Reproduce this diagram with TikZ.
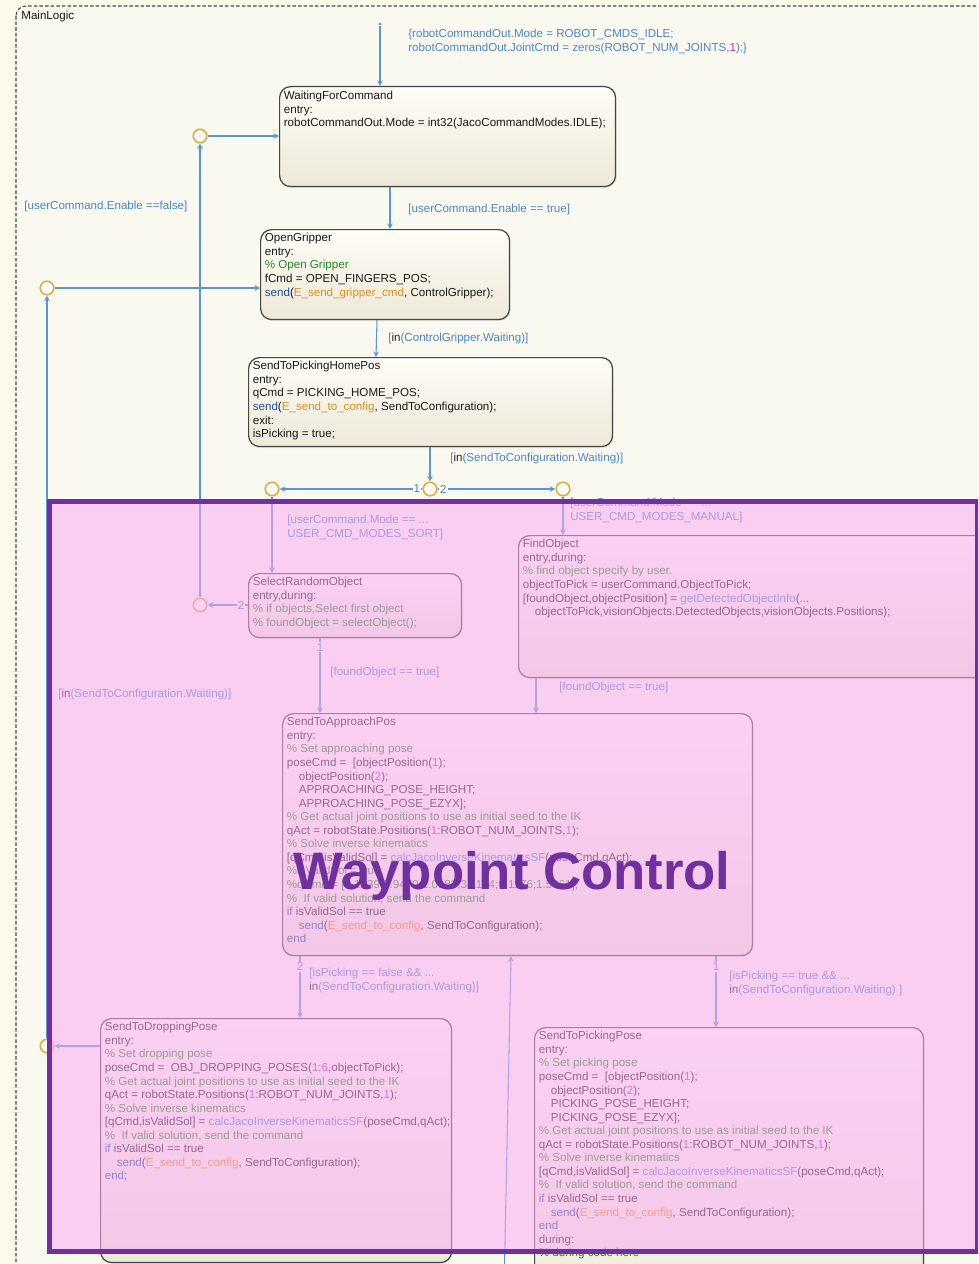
\documentclass[tikz,border=0pt]{standalone}
\usepackage{fontspec}
\setmainfont{Liberation Sans}
\usepackage{xcolor}
\usetikzlibrary{arrows.meta, positioning, calc, shadows}

\definecolor{sfbg}{RGB}{253,250,236}
\definecolor{sfchart}{RGB}{250,249,239}
\definecolor{sftop}{RGB}{253,252,246}
\definecolor{sfbot}{RGB}{237,233,216}
\definecolor{sfline}{RGB}{88,150,214}
\definecolor{sfguard}{RGB}{74,134,206}
\definecolor{sfjunc}{RGB}{232,168,56}
\definecolor{sfborder}{RGB}{70,70,70}
\definecolor{sfkey}{RGB}{30,80,160}
\definecolor{sfcomment}{RGB}{34,139,34}
\definecolor{sfevent}{RGB}{222,146,20}
\definecolor{sffunc}{RGB}{80,130,215}
\definecolor{sfnum}{RGB}{200,40,200}
\definecolor{wpfill}{RGB}{249,172,242}
\definecolor{wppurple}{RGB}{112,48,160}

\newcommand{\kw}[1]{\textcolor{sfkey}{#1}}
\newcommand{\cmt}[1]{\textcolor{sfcomment}{#1}}
\newcommand{\evt}[1]{\textcolor{sfevent}{#1}}
\newcommand{\fcn}[1]{\textcolor{sffunc}{#1}}
\newcommand{\nm}[1]{\textcolor{sfnum}{#1}}
\newcommand{\inkw}{\textcolor{black!85}{in}}
\newcommand{\ind}{\hspace*{6.8pt}}

\begin{document}
\begin{tikzpicture}[
  x=0.02cm, y=-0.02cm,
  font=\fontsize{6.6}{7.72}\selectfont,
  state/.style={draw=sfborder, line width=0.7pt, rounded corners=0.22cm, top color=sftop, bottom color=sfbot, anchor=north west, inner sep=0pt, drop shadow={opacity=0.18, shadow xshift=0.6pt, shadow yshift=-0.8pt}},
  code/.style={anchor=north west, inner sep=0pt, align=left, text=black!90},
  trans/.style={draw=sfline, line width=0.6pt, -{Stealth[open, length=1.1mm, width=1.1mm]}},
  guard/.style={inner sep=0pt, align=left, text=sfguard},
  junc/.style={circle, draw=sfjunc, fill=white, line width=0.9pt, minimum size=0.27cm, inner sep=0pt},
  order/.style={inner sep=0.5pt, fill=sfchart, text=sfguard},
  wpbox/.style={draw=wppurple, line width=0.1cm, fill=wpfill, fill opacity=0.55, anchor=north west, inner sep=0pt},
  wptitle/.style={font=\fontsize{30}{36}\selectfont\bfseries, text=wppurple, anchor=base, inner sep=0pt}
]
\useasboundingbox (0,0) rectangle (978,1264);
\clip (0,0) rectangle (978,1264);
\fill[sfbg] (0,0) rectangle (978,1264);

% chart frame
\draw[sfborder, line width=0.6pt, dash pattern=on 2pt off 1.2pt, rounded corners=0.2cm, fill=sfchart] (16,6) rectangle (1010,1300);
\node[code] (mainlbl) at (21,11) {MainLogic};

% states
\node[state, minimum width=6.72cm, minimum height=2.0cm] (wfc) at (279,86) {};
\node[code] at ($(wfc.north west)+(4.5,5)$) {WaitingForCommand\\entry:\\robotCommandOut.Mode = int32(JacoCommandModes.IDLE);};

\node[state, minimum width=4.98cm, minimum height=1.8cm] (og) at (260,229) {};
\node[code] at ($(og.north west)+(4.5,4)$) {OpenGripper\\entry:\\\cmt{\% Open Gripper}\\fCmd = OPEN\_FINGERS\_POS;\\\kw{send}(\evt{E\_send\_gripper\_cmd}, ControlGripper);};

\node[state, minimum width=7.28cm, minimum height=1.78cm] (sthp) at (248,357) {};
\node[code] at ($(sthp.north west)+(4.5,4)$) {SendToPickingHomePos\\entry:\\qCmd = PICKING\_HOME\_POS;\\\kw{send}(\evt{E\_send\_to\_config}, SendToConfiguration);\\exit:\\isPicking = true;};

\node[state, minimum width=4.26cm, minimum height=1.28cm] (sro) at (248,573) {};
\node[code] at ($(sro.north west)+(4.5,4)$) {SelectRandomObject\\entry,during:\\\cmt{\% if objects,Select first object}\\\cmt{\% foundObject = selectObject();}};

\node[state, minimum width=9.6cm, minimum height=2.84cm] (fo) at (518,535) {};
\node[code] at ($(fo.north west)+(4.5,4)$) {FindObject\\entry,during:\\\cmt{\% find object specify by user.}\\objectToPick = userCommand.ObjectToPick;\\{[}foundObject,objectPosition] = \fcn{getDetectedObjectInfo}(...\\\ind objectToPick,visionObjects.DetectedObjects,visionObjects.Positions);};

\node[state, minimum width=9.4cm, minimum height=4.84cm] (stap) at (282,713) {};
\node[code] at ($(stap.north west)+(4.5,4)$) {SendToApproachPos\\entry:\\\cmt{\% Set approaching pose}\\poseCmd =\ \ [objectPosition(\nm{1});\\\ind objectPosition(\nm{2});\\\ind APPROACHING\_POSE\_HEIGHT;\\\ind APPROACHING\_POSE\_EZYX];\\\cmt{\% Get actual joint positions to use as initial seed to the IK}\\qAct = robotState.Positions(\nm{1}:ROBOT\_NUM\_JOINTS,\nm{1});\\\cmt{\% Solve inverse kinematics}\\{[}qCmd,isValidSol] = \fcn{calcJacoInverseKinematicsSF}(poseCmd,qAct);\\\cmt{\%isValidSol = true;}\\\cmt{\%qCmd = [0.1239;0.9470;1.0183;3.1164;0.1176;1.5861];}\\\cmt{\%\ \ If valid solution, send the command}\\\kw{if} isValidSol == true\\\ind\kw{send}(\evt{E\_send\_to\_config}, SendToConfiguration);\\\kw{end}};

\node[state, minimum width=7.02cm, minimum height=4.88cm] (stdp) at (100,1018) {};
\node[code] at ($(stdp.north west)+(4.5,4)$) {SendToDroppingPose\\entry:\\\cmt{\% Set dropping pose}\\poseCmd =\ \ OBJ\_DROPPING\_POSES(\nm{1}:\nm{6},objectToPick);\\\cmt{\% Get actual joint positions to use as initial seed to the IK}\\qAct = robotState.Positions(\nm{1}:ROBOT\_NUM\_JOINTS,\nm{1});\\\cmt{\% Solve inverse kinematics}\\{[}qCmd,isValidSol] = \fcn{calcJacoInverseKinematicsSF}(poseCmd,qAct);\\\cmt{\%\ \ If valid solution, send the command}\\\kw{if} isValidSol == true\\\ind\kw{send}(\evt{E\_send\_to\_config}, SendToConfiguration);\\\kw{end};};

\node[state, minimum width=7.78cm, minimum height=6cm] (stpp) at (534,1027) {};
\node[code] at ($(stpp.north west)+(4.5,4)$) {SendToPickingPose\\entry:\\\cmt{\% Set picking pose}\\poseCmd =\ \ [objectPosition(\nm{1});\\\ind objectPosition(\nm{2});\\\ind PICKING\_POSE\_HEIGHT;\\\ind PICKING\_POSE\_EZYX];\\\cmt{\% Get actual joint positions to use as initial seed to the IK}\\qAct = robotState.Positions(\nm{1}:ROBOT\_NUM\_JOINTS,\nm{1});\\\cmt{\% Solve inverse kinematics}\\{[}qCmd,isValidSol] = \fcn{calcJacoInverseKinematicsSF}(poseCmd,qAct);\\\cmt{\%\ \ If valid solution, send the command}\\\kw{if} isValidSol == true\\\ind\kw{send}(\evt{E\_send\_to\_config}, SendToConfiguration);\\\kw{end}\\during:\\\cmt{\% during code here}};

% junctions
\node[circle, fill=sfline, inner sep=0pt, minimum size=0.06cm] (init) at (380,24) {};
\node[junc] (j1) at (200,136) {};
\node[junc] (j2) at (47,288) {};
\node[junc] (j3) at (430,489) {};
\node[junc] (jl) at (272,489) {};
\node[junc] (jr) at (563,489) {};
\node[junc] (jsr) at (200,605) {};
\node[junc] (jdp) at (47,1046) {};
\coordinate (below) at (504,1290);

% transitions
\draw[trans] (init) -- (init |- wfc.north);
\draw[trans] (j1) -- (j1 -| wfc.west);
\draw[trans] (j2) -- (j2 -| og.west);
\draw[trans] ($(wfc.south west)+(111,0)$) -- ($(og.north west)+(130,0)$);
\draw[trans] ($(og.south west)+(117,0)$) -- ($(sthp.north west)+(128,0)$);
\draw[trans] (j3 |- sthp.south) -- (j3);
\draw[trans] (j3) -- node[order, pos=0.04] {1} (jl);
\draw[trans] (j3) -- node[order, pos=0.05] {2} (jr);
\draw[trans] (jl) -- (jl |- sro.north);
\draw[trans] (jr) -- (jr |- fo.north);
\draw[trans] (sro.west |- jsr) -- node[order, pos=0.17] {2} (jsr);
\draw[trans] (jsr) -- (j1);
\draw[trans] (jdp -| stdp.west) -- (jdp);
\draw[trans] (jdp) -- (j2);
\draw[trans] ($(sro.south west)+(72,0)$) -- node[order, pos=0.12] {1} ($(stap.north west)+(38,0)$);
\draw[trans] ($(fo.south west)+(18,0)$) -- ($(stap.north west)+(254,0)$);
\draw[trans] ($(stap.south west)+(18,0)$) -- node[order, pos=0.17] {2} ($(stdp.north west)+(200,0)$);
\draw[trans] ($(stap.south west)+(434,0)$) -- node[order, pos=0.15] {1} ($(stpp.north west)+(182,0)$);
\draw[trans] (below) -- ($(stap.south west)+(229,0)$);

% guards and actions
\node[guard, anchor=north west] at (408,29) {\{robotCommandOut.Mode = ROBOT\_CMDS\_IDLE;\\robotCommandOut.JointCmd = zeros(ROBOT\_NUM\_JOINTS,\nm{1});\}};
\node[guard, anchor=west] at (408,210) {[userCommand.Enable == true]};
\node[guard, anchor=west] at (24,207) {[userCommand.Enable ==false]};
\node[guard, anchor=west] at (388,338) {[\inkw(ControlGripper.Waiting)]};
\node[guard, anchor=west] at (450,458) {[\inkw(SendToConfiguration.Waiting)]};
\node[guard, anchor=west] at (58,694) {[\inkw(SendToConfiguration.Waiting)]};
\node[guard, anchor=north west] at (287,515) {[userCommand.Mode == ...\\USER\_CMD\_MODES\_SORT]};
\node[guard, anchor=north west] at (570,498) {[userCommand.Mode == ...\\USER\_CMD\_MODES\_MANUAL]};
\node[guard, anchor=west] at (330,672) {[foundObject == true]};
\node[guard, anchor=west] at (559,687) {[foundObject == true]};
\node[guard, anchor=north west] at (309,968) {[isPicking == false \&\& ...\\\inkw(SendToConfiguration.Waiting)]};
\node[guard, anchor=north west] at (729,971) {[isPicking == true \&\& ...\\\inkw(SendToConfiguration.Waiting) ]};

% highlight
\node[wpbox, minimum width=18.57cm, minimum height=15cm] (wp) at (47,499) {};
\node[wptitle] (wptxt) at (512,889) {Waypoint Control};

\end{tikzpicture}
\end{document}
